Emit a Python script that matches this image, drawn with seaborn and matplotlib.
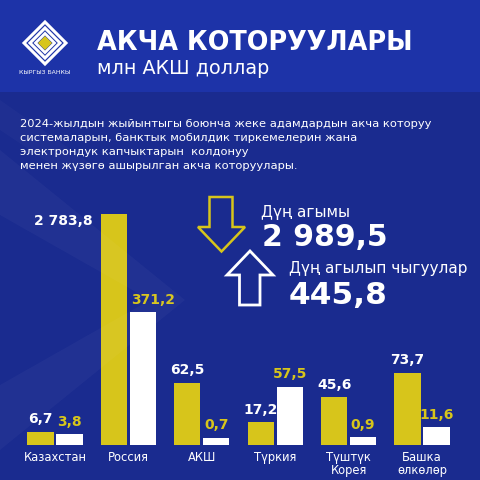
import numpy as np
import pandas as pd
import seaborn as sns
import matplotlib.pyplot as plt
from matplotlib.patches import Polygon, Rectangle

# data
countries = ["Казахстан", "Россия", "АКШ", "Түркия", "Түштүк\nКорея", "Башка\nөлкөлөр"]
inflow = [6.7, 2783.8, 62.5, 17.2, 45.6, 73.7]
outflow = [3.8, 371.2, 0.7, 57.5, 0.9, 11.6]
flow_names = ["Дүң агымы", "Дүң агылып чыгуулар"]
flow_totals = [2989.5, 445.8]

title = "АКЧА КОТОРУУЛАРЫ"
subtitle = "млн АКШ доллар"
intro_lines = [
    "2024-жылдын жыйынтыгы боюнча жеке адамдардын акча которуу",
    "системаларын, банктык мобилдик тиркемелерин жана",
    "электрондук капчыктарын  колдонуу",
    "менен жүзөгө ашырылган акча которуулары.",
]
logo_text = "КЫРГЫЗ БАНКЫ"

BG = "#1a2b8f"
HEADER = "#1d33a8"
YELLOW = "#d7c51b"
WHITE = "#ffffff"

sns.set_theme(style="white")
plt.rcParams["font.family"] = ["DejaVu Sans"]

df = pd.DataFrame({
    "country": countries * 2,
    "flow": ["in"] * len(countries) + ["out"] * len(countries),
    "value": inflow + outflow,
})


def fmt(v):
    return f"{v:,.1f}".replace(",", " ").replace(".", ",")


# infographic scale: linear with a bar floor for small values, compressed for big ones
def fwd(v):
    v = np.asarray(v, dtype=float)
    lo = v + 8.5 * (1 - np.exp(-np.clip(v, 0, None) / 0.3))
    hi = 83.5 + 130 * (np.clip(v, 75, None) ** 0.15 - 75 ** 0.15)
    return np.where(v <= 75, lo, hi)


_grid = np.concatenate([np.linspace(-50, 100, 3001), np.geomspace(100.01, 1e5, 3000)])
_fgrid = fwd(_grid)


def inv(t):
    return np.interp(t, _fgrid, _grid)


W, H = 480, 480
fig = plt.figure(figsize=(4.8, 4.8), dpi=100)
fig.patch.set_facecolor(BG)


def px(x, y):
    return (x / W, 1 - y / H)


# background decoration
fig.patches.append(Polygon([px(0, 150), px(0, 215), px(150, 300), px(0, 385), px(0, 450), px(185, 300)],
                           closed=True, transform=fig.transFigure, facecolor="white", alpha=0.03, lw=0))
fig.patches.append(Polygon([px(0, 100), px(0, 130), px(60, 170), px(100, 170)],
                           closed=True, transform=fig.transFigure, facecolor="white", alpha=0.025, lw=0))
fig.patches.append(Rectangle((0, 1 - 92 / H), 1, 92 / H, transform=fig.transFigure,
                             facecolor=HEADER, lw=0))

# logo
cx, cy = 45, 43
for r, lw in [(21, 2.2), (15, 2.2), (9.5, 2.0)]:
    fig.patches.append(Polygon([px(cx, cy - r), px(cx + r, cy), px(cx, cy + r), px(cx - r, cy)],
                               closed=True, transform=fig.transFigure, fill=False,
                               edgecolor=WHITE, lw=lw))
fig.patches.append(Polygon([px(cx, cy - 7), px(cx + 7, cy), px(cx, cy + 7), px(cx - 7, cy)],
                           closed=True, transform=fig.transFigure, facecolor=YELLOW, lw=0))
fig.text(*px(45, 74), logo_text, color=WHITE, fontsize=4.4, ha="center", va="baseline")

# header texts
fig.text(*px(97, 50), title, color=WHITE, fontsize=18.4, fontweight="bold", va="baseline")
fig.text(*px(97, 74), subtitle, color=WHITE, fontsize=13.8, va="baseline")
for i, line in enumerate(intro_lines):
    fig.text(*px(20, 127 + 14 * i), line, color=WHITE, fontsize=8.25, va="baseline")

# totals with arrows
fig.patches.append(Polygon([px(209.5, 197), px(232.5, 197), px(232.5, 227), px(245, 227),
                            px(221.5, 251.5), px(198, 227), px(209.5, 227)],
                           closed=True, transform=fig.transFigure, fill=False,
                           edgecolor=YELLOW, lw=1.8, joinstyle="miter"))
fig.patches.append(Polygon([px(250, 251), px(273, 275), px(260, 275), px(260, 305),
                            px(239.5, 305), px(239.5, 275), px(227, 275)],
                           closed=True, transform=fig.transFigure, fill=False,
                           edgecolor=WHITE, lw=2.0, joinstyle="miter"))
fig.text(*px(261, 217), flow_names[0], color=WHITE, fontsize=11, va="baseline")
fig.text(*px(262, 246.5), fmt(flow_totals[0]), color=WHITE, fontsize=21.5, fontweight="bold", va="baseline")
fig.text(*px(289, 273), flow_names[1], color=WHITE, fontsize=11, va="baseline")
fig.text(*px(289, 303.5), fmt(flow_totals[1]), color=WHITE, fontsize=22.5, fontweight="bold", va="baseline")

# bars
ax = fig.add_axes([18.3 / W, 35 / H, 440.4 / W, 265 / H])
ax.set_facecolor("none")
ax.set_yscale("function", functions=(fwd, inv))
sns.barplot(data=df, x="country", y="value", hue="flow", palette={"in": YELLOW, "out": WHITE},
            width=0.79, gap=0.1, saturation=1, legend=False, linewidth=0, edgecolor="none", ax=ax)
ax.set_ylim(0, 5000)
ax.set_xlim(-0.5, len(countries) - 0.5)
ax.set_xlabel("")
ax.set_ylabel("")
ax.set_yticks([])
ax.tick_params(axis="x", length=0, pad=4, labelsize=8.3, colors=WHITE)
for lab in ax.get_xticklabels():
    lab.set_linespacing(1.0)
for s in ax.spines.values():
    s.set_visible(False)

label_colors = [WHITE, YELLOW]
for container, lc in zip(ax.containers, label_colors):
    for bar, v in zip(container.patches, container.datavalues):
        top = bar.get_height()
        if v > 1000:
            ax.annotate(fmt(v), (bar.get_x(), top), xytext=(-6, 0),
                        textcoords="offset points", ha="right", va="top",
                        color=lc, fontsize=10, fontweight="bold")
        elif v > 100:
            ax.annotate(fmt(v), (bar.get_x(), top), xytext=(1, 4),
                        textcoords="offset points", ha="left", va="bottom",
                        color=lc, fontsize=10, fontweight="bold")
        else:
            ax.annotate(fmt(v), (bar.get_x() + bar.get_width() / 2, top),
                        xytext=(0, 4), textcoords="offset points", ha="center", va="bottom",
                        color=lc, fontsize=10, fontweight="bold")

fig.savefig("out.png", dpi=100, facecolor=BG)
